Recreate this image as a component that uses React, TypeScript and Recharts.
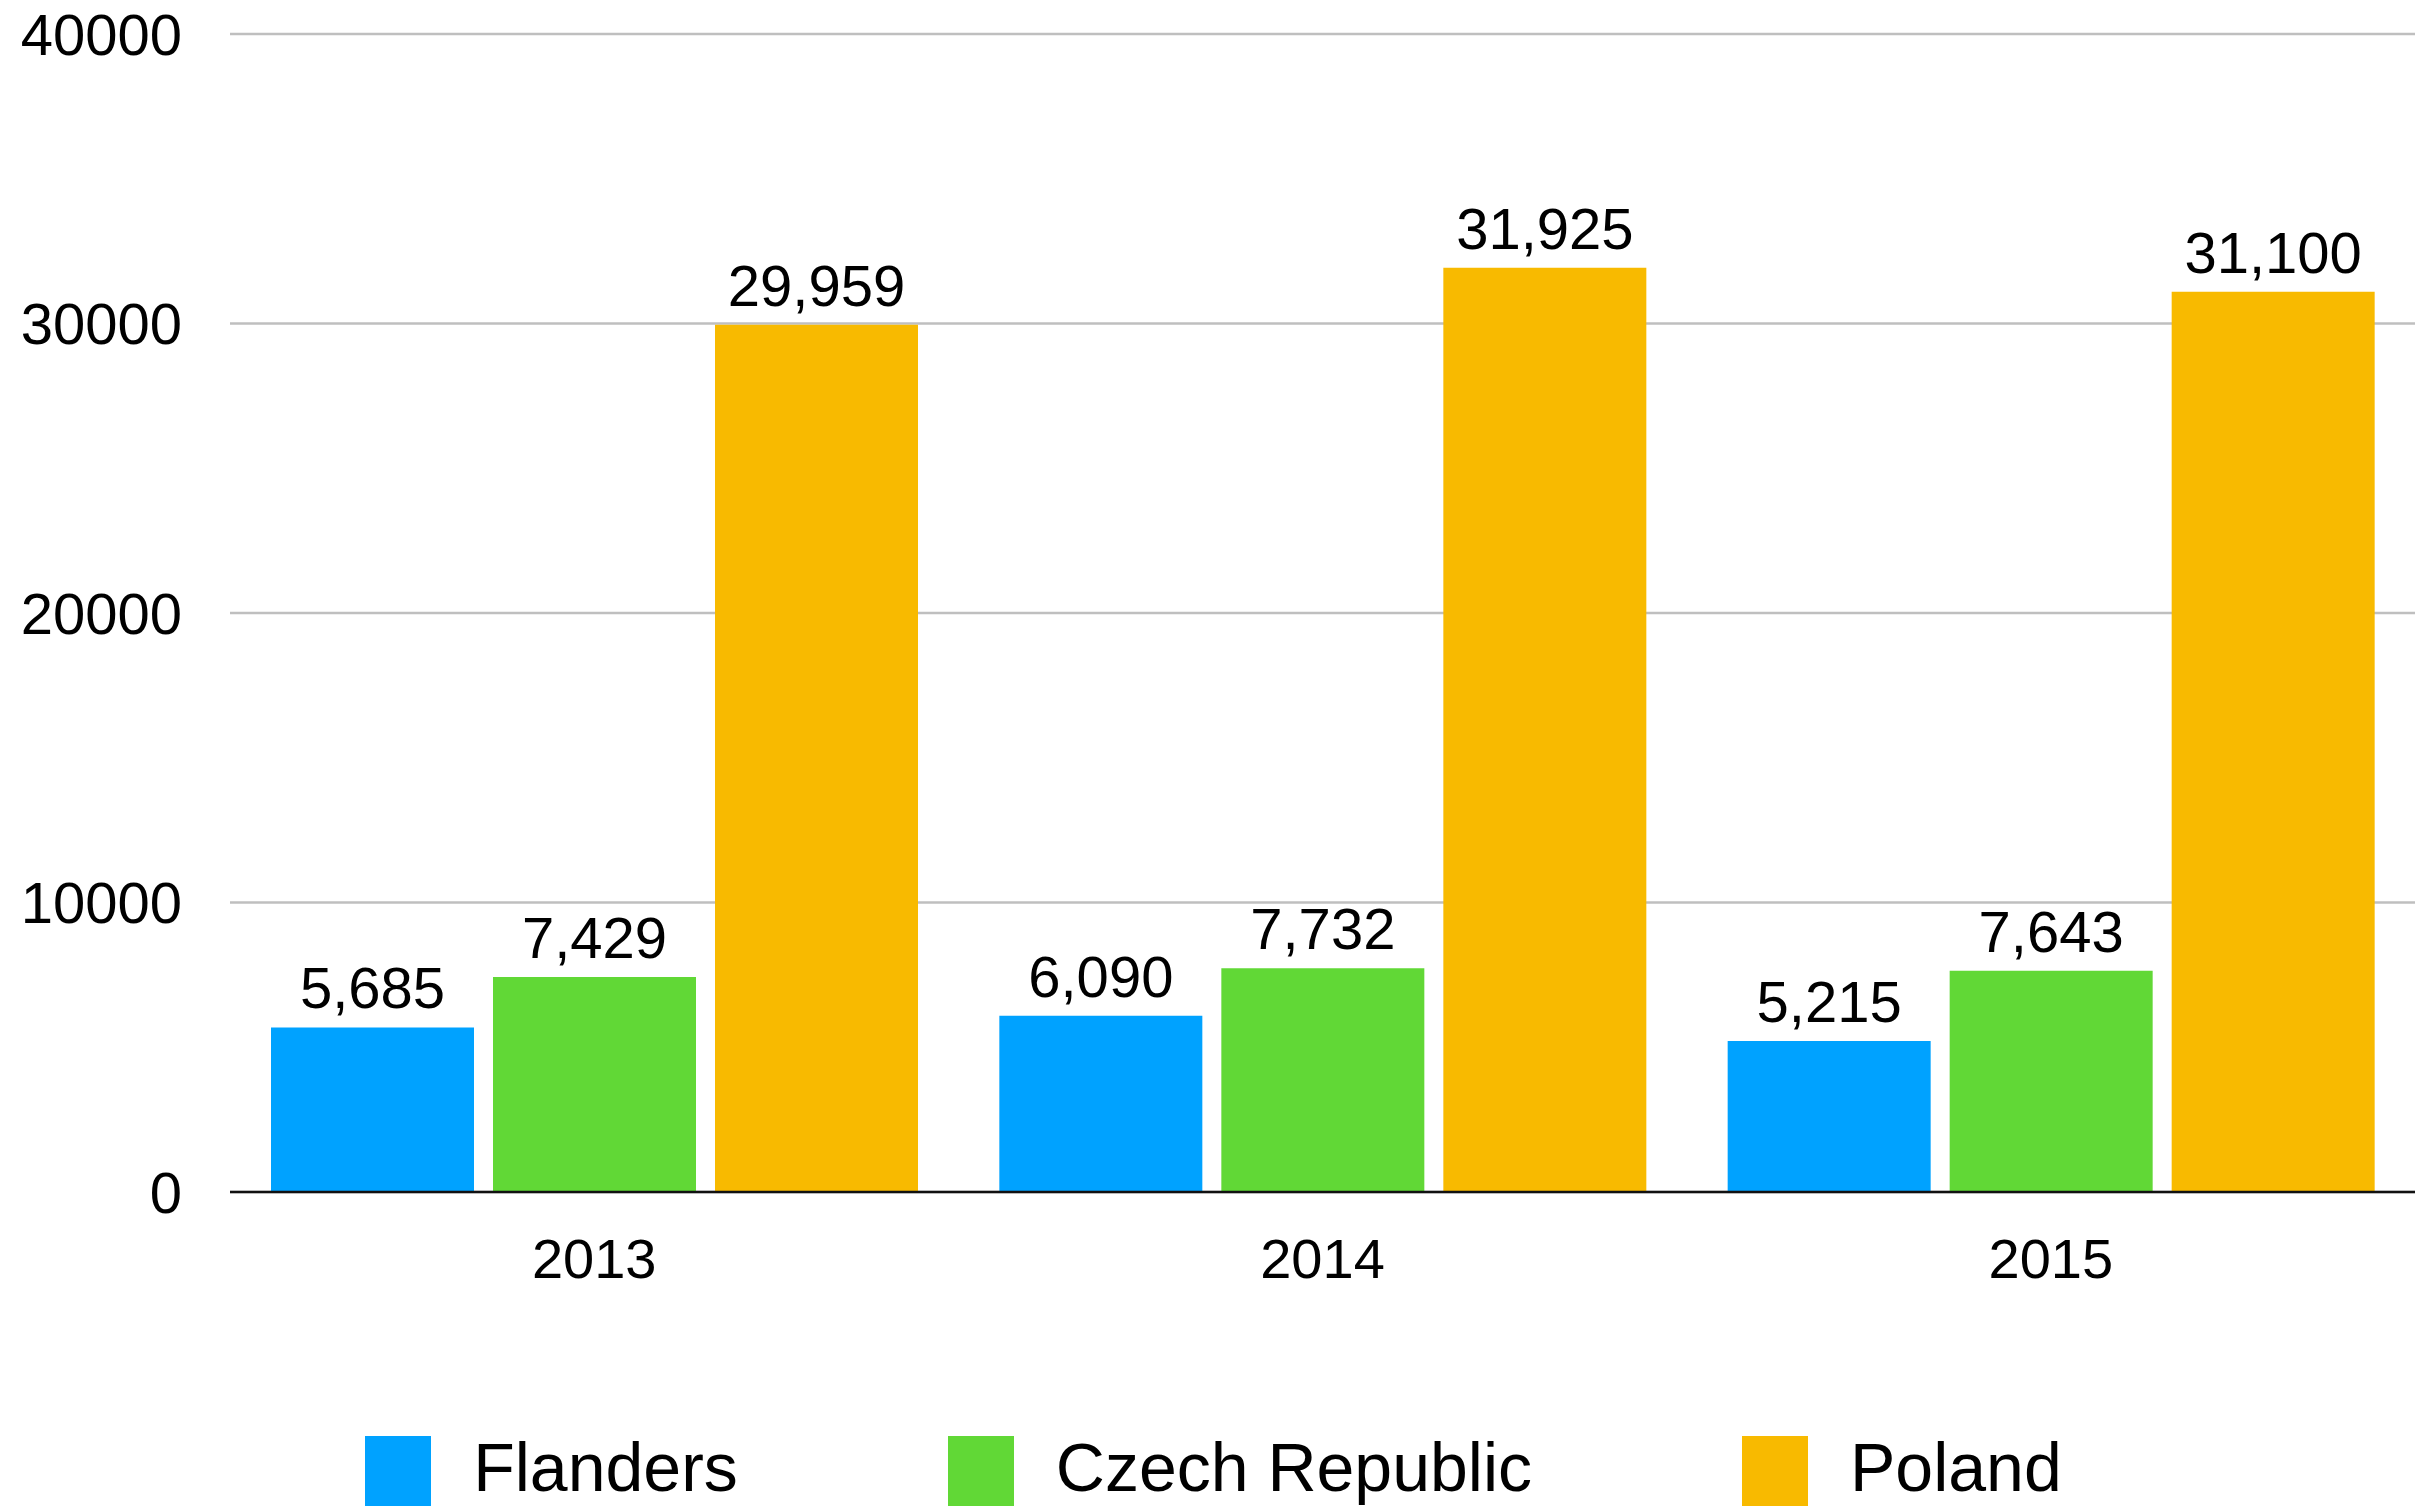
import { BarChart, Bar, XAxis, YAxis, CartesianGrid, LabelList } from 'recharts';

const years = ['2013', '2014', '2015'];
const flanders = [5685, 6090, 5215];
const czechRepublic = [7429, 7732, 7643];
const poland = [29959, 31925, 31100];
const yTicks = [0, 10000, 20000, 30000, 40000];

const series = [
  { key: 'flanders', name: 'Flanders', color: '#00A2FF' },
  { key: 'czech', name: 'Czech Republic', color: '#61D836' },
  { key: 'poland', name: 'Poland', color: '#F8BA00' },
];

const chartData = years.map((year, i) => ({
  year,
  flanders: flanders[i],
  czech: czechRepublic[i],
  poland: poland[i],
}));

const font = '"Liberation Sans", Arial, Helvetica, sans-serif';
const fmt = (v: number) => v.toLocaleString('en-US');

const App = () => {
  return (
    <div style={{ position: 'absolute', left: 0, top: 0, width: 2427, height: 1506, overflow: 'hidden', background: '#fff', fontFamily: font }}>
      <BarChart
        width={2427}
        height={1506}
        data={chartData}
        margin={{ top: 34, right: 12, left: 0, bottom: 214 }}
        barCategoryGap={41}
        barGap={19}
      >
        <CartesianGrid vertical={false} stroke="#BFBFBF" strokeWidth={2.5} />
        <XAxis
          dataKey="year"
          height={100}
          tickLine={false}
          tickSize={0}
          tickMargin={46}
          axisLine={{ stroke: '#111', strokeWidth: 2.5 }}
          tick={{ fontSize: 56, fill: '#000', fontFamily: font }}
        />
        <YAxis
          width={230}
          domain={[0, 40000]}
          ticks={yTicks}
          axisLine={false}
          tickLine={false}
          tickSize={0}
          tickMargin={48}
          tick={{ fontSize: 58, fill: '#000', fontFamily: font }}
        />
        {series.map(s => (
          <Bar key={s.key} dataKey={s.key} name={s.name} fill={s.color} isAnimationActive={false}>
            <LabelList
              dataKey={s.key}
              position="top"
              offset={19}
              formatter={(v: number) => fmt(v)}
              style={{ fontSize: 58, fill: '#000', fontFamily: font }}
            />
          </Bar>
        ))}
      </BarChart>
      {/* legend: squares run off the bottom edge like in the original */}
      <div
        style={{
          position: 'absolute',
          top: 1436,
          left: 0,
          width: 2427,
          display: 'flex',
          justifyContent: 'center',
          alignItems: 'flex-start',
        }}
      >
        {series.map((s, i) => (
          <div key={s.key} style={{ display: 'flex', alignItems: 'flex-start', marginLeft: i === 0 ? 0 : 210 }}>
            <div style={{ width: 66, height: 70, background: s.color }} />
            <span style={{ marginLeft: 42, marginTop: -1, fontSize: 68, lineHeight: '64px', color: '#000', whiteSpace: 'nowrap' }}>
              {s.name}
            </span>
          </div>
        ))}
      </div>
    </div>
  );
};

export default App;
